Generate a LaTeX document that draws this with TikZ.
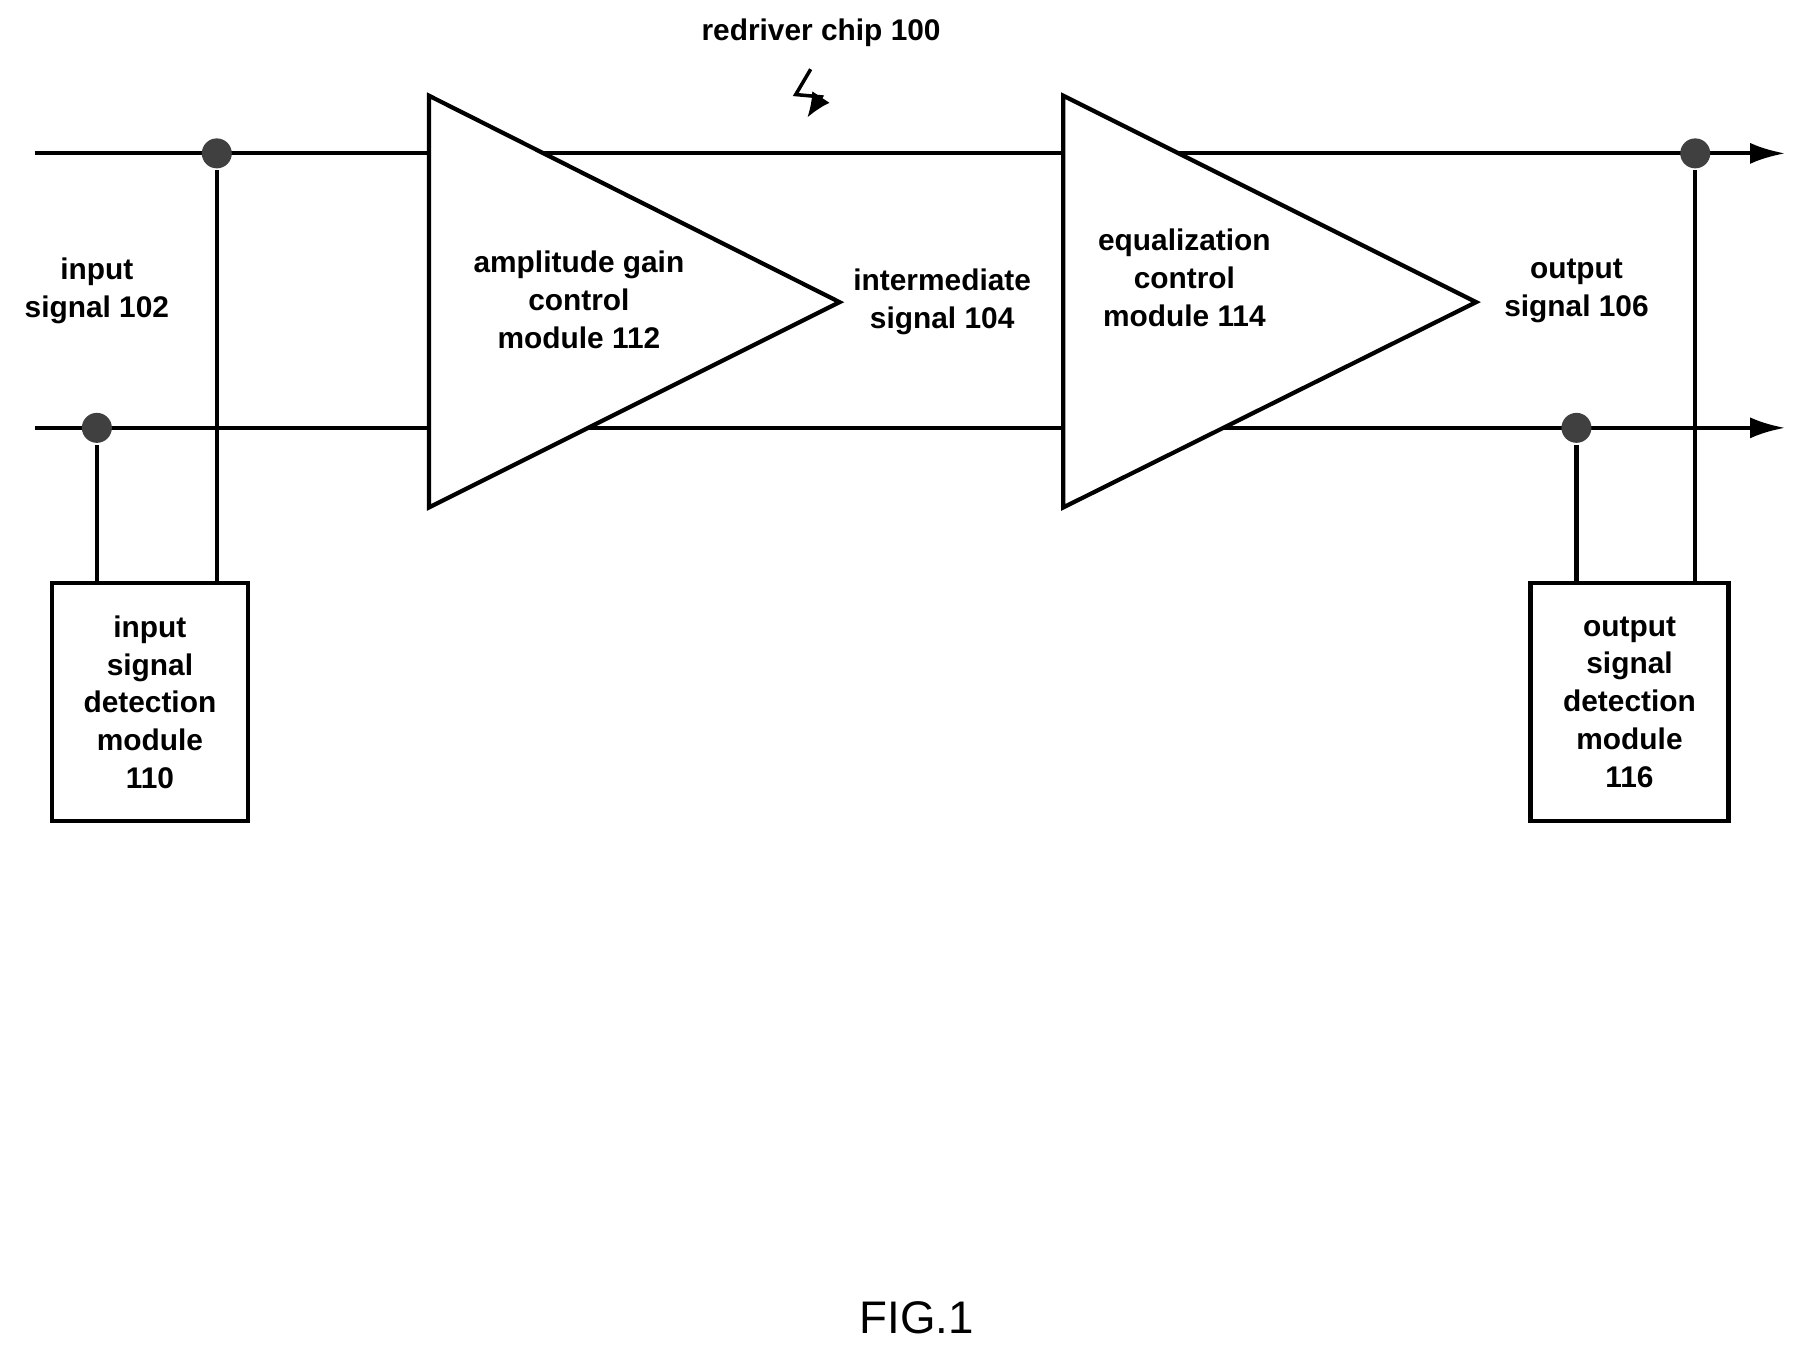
\documentclass[tikz,border=0pt]{standalone}
\usepackage{fontspec}
\setmainfont{Liberation Sans}
\usetikzlibrary{arrows.meta}
\begin{document}
\begin{tikzpicture}[x=0.011538cm,y=-0.011538cm,line width=1.2pt,
    lbl/.style={align=center,font=\bfseries\fontsize{8.5}{10.8}\selectfont},
    amp/.style={fill=white,draw=black,line join=miter},
    dot/.style={circle,fill=black!75,inner sep=0pt,minimum size=0.3cm}]
  \useasboundingbox (0,0) rectangle (1560,1173);
  % signal lines
  \coordinate (inP) at (30,133);
  \coordinate (inN) at (30,371);
  \coordinate (outP) at (1548,133);
  \coordinate (outN) at (1548,371);
  \draw[-{Latex[length=10pt,width=6pt]}] (inP) -- (outP);
  \draw[-{Latex[length=10pt,width=6pt]}] (inN) -- (outN);
  % amplifiers
  \draw[amp] (372,83) -- (372,440) -- (728,262) -- cycle;
  \draw[amp] (922,83) -- (922,440) -- (1280,262) -- cycle;
  \node[lbl] (agc) at (502,260) {amplitude gain\\control\\module 112};
  \node[lbl] (eq) at (1027,241) {equalization\\control\\module 114};
  % detection modules
  \node[draw,minimum width=1.96cm,minimum height=2.38cm,lbl] (det1) at (130,609) {input\\signal\\detection\\module\\110};
  \node[draw,minimum width=1.98cm,minimum height=2.38cm,lbl] (det2) at (1413,609) {output\\signal\\detection\\module\\116};
  \node[dot] (d1) at (188,133) {};
  \node[dot] (d2) at (84,371) {};
  \node[dot] (d3) at (1470,133) {};
  \node[dot] (d4) at (1367,371) {};
  \draw (d1) -- (188,506);
  \draw (d2) -- (84,506);
  \draw (d3) -- (1470,506);
  \draw (d4) -- (1367,506);
  % labels
  \node[lbl] (sin) at (84,252) {input\\signal 102};
  \node[lbl] (smid) at (817,262) {intermediate\\signal 104};
  \node[lbl] (sout) at (1367,252) {output\\signal 106};
  \node[lbl] (chip) at (712,28) {redriver chip 100};
  \draw[line width=1pt,-{Latex[length=7pt,width=6pt]}] (703,60) -- (690,82) -- (712,84) -- (700,102);
  \node[font=\fontsize{13}{15}\selectfont] (fig) at (795,1143) {FIG.1};
\end{tikzpicture}
\end{document}
